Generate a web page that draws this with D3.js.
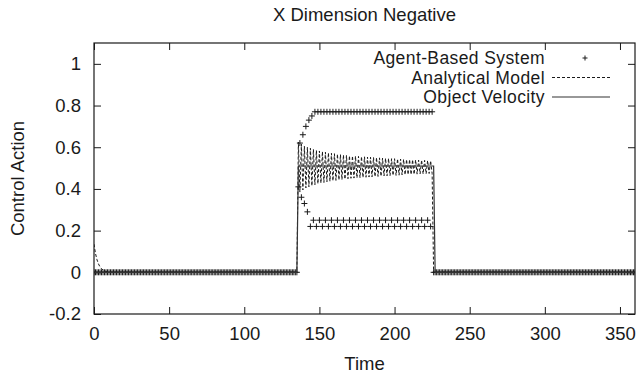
<!DOCTYPE html>
<html>
<head>
<meta charset="utf-8">
<script src="https://cdn.jsdelivr.net/npm/d3@7/dist/d3.min.js"></script>
<style>
  body { margin: 0; background: #fff; }
  svg { display: block; font-family: "Liberation Sans", Arial, Helvetica, sans-serif; }
</style>
</head>
<body>
<div id="chart"></div>
<script>
// ---------------------------
// Data (one value per time step, index = time)
// ---------------------------
const agentValues = [
  // t = 0..135
  0, 0, 0, 0, 0, 0, 0, 0, 0, 0, 0, 0, 0, 0, 0, 0, 0, 0, 0, 0,
  0, 0, 0, 0, 0, 0, 0, 0, 0, 0, 0, 0, 0, 0, 0, 0, 0, 0, 0, 0,
  0, 0, 0, 0, 0, 0, 0, 0, 0, 0, 0, 0, 0, 0, 0, 0, 0, 0, 0, 0,
  0, 0, 0, 0, 0, 0, 0, 0, 0, 0, 0, 0, 0, 0, 0, 0, 0, 0, 0, 0,
  0, 0, 0, 0, 0, 0, 0, 0, 0, 0, 0, 0, 0, 0, 0, 0, 0, 0, 0, 0,
  0, 0, 0, 0, 0, 0, 0, 0, 0, 0, 0, 0, 0, 0, 0, 0, 0, 0, 0, 0,
  0, 0, 0, 0, 0, 0, 0, 0, 0, 0, 0, 0, 0, 0, 0, 0,
  // t = 136..147
  0.41, 0.62, 0.36, 0.66, 0.33, 0.70, 0.29, 0.73, 0.22, 0.75, 0.25, 0.77,
  // t = 148..225
  0.22, 0.77, 0.25, 0.77, 0.22, 0.77, 0.25, 0.77,
  0.22, 0.77, 0.25, 0.77, 0.22, 0.77, 0.25, 0.77,
  0.22, 0.77, 0.25, 0.77, 0.22, 0.77, 0.25, 0.77,
  0.22, 0.77, 0.25, 0.77, 0.22, 0.77, 0.25, 0.77,
  0.22, 0.77, 0.25, 0.77, 0.22, 0.77, 0.25, 0.77,
  0.22, 0.77, 0.25, 0.77, 0.22, 0.77, 0.25, 0.77,
  0.22, 0.77, 0.25, 0.77, 0.22, 0.77, 0.25, 0.77,
  0.22, 0.77, 0.25, 0.77, 0.22, 0.77, 0.25, 0.77,
  0.22, 0.77, 0.25, 0.77, 0.22, 0.77, 0.25, 0.77,
  0.22, 0.77, 0.25, 0.77,
  0.22, 0.77,
  // t = 226..360
  0, 0, 0, 0, 0, 0, 0, 0, 0, 0, 0, 0, 0, 0, 0, 0, 0, 0, 0, 0,
  0, 0, 0, 0, 0, 0, 0, 0, 0, 0, 0, 0, 0, 0, 0, 0, 0, 0, 0, 0,
  0, 0, 0, 0, 0, 0, 0, 0, 0, 0, 0, 0, 0, 0, 0, 0, 0, 0, 0, 0,
  0, 0, 0, 0, 0, 0, 0, 0, 0, 0, 0, 0, 0, 0, 0, 0, 0, 0, 0, 0,
  0, 0, 0, 0, 0, 0, 0, 0, 0, 0, 0, 0, 0, 0, 0, 0, 0, 0, 0, 0,
  0, 0, 0, 0, 0, 0, 0, 0, 0, 0, 0, 0, 0, 0, 0, 0, 0, 0, 0, 0,
  0, 0, 0, 0, 0, 0, 0, 0, 0, 0, 0, 0, 0, 0, 0
];

const modelValues = [
  // t = 0..10
  0.135, 0.09, 0.06, 0.04, 0.026, 0.017, 0.011, 0.007, 0.004, 0.002, 0,
  // t = 11..135
  0, 0, 0, 0, 0, 0, 0, 0, 0, 0, 0, 0, 0, 0, 0, 0, 0, 0, 0, 0,
  0, 0, 0, 0, 0, 0, 0, 0, 0, 0, 0, 0, 0, 0, 0, 0, 0, 0, 0, 0,
  0, 0, 0, 0, 0, 0, 0, 0, 0, 0, 0, 0, 0, 0, 0, 0, 0, 0, 0, 0,
  0, 0, 0, 0, 0, 0, 0, 0, 0, 0, 0, 0, 0, 0, 0, 0, 0, 0, 0, 0,
  0, 0, 0, 0, 0, 0, 0, 0, 0, 0, 0, 0, 0, 0, 0, 0, 0, 0, 0, 0,
  0, 0, 0, 0, 0, 0, 0, 0, 0, 0, 0, 0, 0, 0, 0, 0, 0, 0, 0, 0,
  0, 0, 0, 0, 0,
  // t = 136..225
  0.625, 0.385, 0.615, 0.395, 0.605, 0.405, 0.600, 0.410, 0.595, 0.415,
  0.590, 0.420, 0.585, 0.425, 0.582, 0.428, 0.579, 0.431, 0.576, 0.434,
  0.573, 0.437, 0.571, 0.439, 0.569, 0.441, 0.567, 0.443, 0.565, 0.445,
  0.563, 0.447, 0.561, 0.449, 0.559, 0.451, 0.558, 0.452, 0.557, 0.453,
  0.556, 0.454, 0.555, 0.455, 0.554, 0.456, 0.553, 0.457, 0.552, 0.458,
  0.551, 0.459, 0.550, 0.460, 0.549, 0.461, 0.548, 0.462, 0.547, 0.463,
  0.546, 0.464, 0.545, 0.465, 0.545, 0.465, 0.544, 0.466, 0.543, 0.467,
  0.542, 0.468, 0.541, 0.469, 0.541, 0.469, 0.540, 0.470, 0.539, 0.471,
  0.538, 0.472, 0.538, 0.472, 0.537, 0.473, 0.536, 0.474, 0.535, 0.475,
  // t = 226..360
  0, 0, 0, 0, 0, 0, 0, 0, 0, 0, 0, 0, 0, 0, 0, 0, 0, 0, 0, 0,
  0, 0, 0, 0, 0, 0, 0, 0, 0, 0, 0, 0, 0, 0, 0, 0, 0, 0, 0, 0,
  0, 0, 0, 0, 0, 0, 0, 0, 0, 0, 0, 0, 0, 0, 0, 0, 0, 0, 0, 0,
  0, 0, 0, 0, 0, 0, 0, 0, 0, 0, 0, 0, 0, 0, 0, 0, 0, 0, 0, 0,
  0, 0, 0, 0, 0, 0, 0, 0, 0, 0, 0, 0, 0, 0, 0, 0, 0, 0, 0, 0,
  0, 0, 0, 0, 0, 0, 0, 0, 0, 0, 0, 0, 0, 0, 0, 0, 0, 0, 0, 0,
  0, 0, 0, 0, 0, 0, 0, 0, 0, 0, 0, 0, 0, 0, 0
];

const velocityTimes = [0, 135, 136, 226, 227, 360];
const velocityValues = [0, 0, 0.51, 0.51, 0, 0];

const xTicks = [0, 50, 100, 150, 200, 250, 300, 350];
const yTicks = [-0.2, 0, 0.2, 0.4, 0.6, 0.8, 1];
const yTickLabels = ['-0.2', '0', '0.2', '0.4', '0.6', '0.8', '1'];
const seriesNames = ['Agent-Based System', 'Analytical Model', 'Object Velocity'];

// ---------------------------
// Layout
// ---------------------------
const width = 637, height = 374;
const margin = { top: 43, right: 2, bottom: 60, left: 94 };
const plotW = width - margin.left - margin.right;
const plotH = height - margin.top - margin.bottom;
const fontSize = 18.5;
const ink = '#1a1a1a';

const svg = d3.select('#chart').append('svg')
  .attr('width', width)
  .attr('height', height);

const x = d3.scaleLinear().domain([0, 360]).range([0, plotW]);
const y = d3.scaleLinear().domain([-0.2, 1.1]).range([plotH, 0]);

const plot = svg.append('g').attr('transform', `translate(${margin.left},${margin.top})`);

// clip so nothing leaves the frame
svg.append('defs').append('clipPath').attr('id', 'clip')
  .append('rect').attr('width', plotW).attr('height', plotH);

// ---------------------------
// Axes (ticks inside, mirrored)
// ---------------------------
function styleAxis(g, showText) {
  g.select('.domain').remove();
  g.selectAll('line').attr('stroke', ink);
  g.selectAll('text')
    .attr('fill', ink)
    .style('font-size', fontSize + 'px')
    .style('display', showText ? null : 'none');
}

plot.append('g')
  .attr('transform', `translate(0,${plotH})`)
  .call(d3.axisBottom(x).tickValues(xTicks).tickSizeInner(-7).tickSizeOuter(0).tickPadding(13))
  .call(g => styleAxis(g, true));

plot.append('g')
  .call(d3.axisTop(x).tickValues(xTicks).tickSizeInner(-7).tickSizeOuter(0))
  .call(g => styleAxis(g, false));

plot.append('g')
  .call(d3.axisLeft(y).tickValues(yTicks).tickSizeInner(-7).tickSizeOuter(0).tickPadding(13)
    .tickFormat((d, i) => yTickLabels[i]))
  .call(g => styleAxis(g, true));

plot.append('g')
  .attr('transform', `translate(${plotW},0)`)
  .call(d3.axisRight(y).tickValues(yTicks).tickSizeInner(-7).tickSizeOuter(0))
  .call(g => styleAxis(g, false));

// ---------------------------
// Series
// ---------------------------
const plusPath = s => `M${-s},0H${s}M0,${-s}V${s}`;
const series = plot.append('g').attr('clip-path', 'url(#clip)');

series.selectAll('path.agent')
  .data(agentValues)
  .enter()
  .append('path')
  .attr('class', 'agent')
  .attr('transform', (d, i) => `translate(${x(i)},${y(d)})`)
  .attr('d', plusPath(3))
  .attr('stroke', ink)
  .attr('stroke-width', 1)
  .attr('fill', 'none');

const modelLine = d3.line()
  .x((d, i) => x(i))
  .y(d => y(d));

series.append('path')
  .datum(modelValues)
  .attr('d', modelLine)
  .attr('fill', 'none')
  .attr('stroke', ink)
  .attr('stroke-width', 1)
  .attr('stroke-dasharray', '3,2');

const velocityLine = d3.line()
  .x((d, i) => x(velocityTimes[i]))
  .y(d => y(d));

series.append('path')
  .datum(velocityValues)
  .attr('d', velocityLine)
  .attr('fill', 'none')
  .attr('stroke', '#333')
  .attr('stroke-width', 1.2);

// ---------------------------
// Frame
// ---------------------------
plot.append('rect')
  .attr('width', plotW)
  .attr('height', plotH)
  .attr('fill', 'none')
  .attr('stroke', ink)
  .attr('stroke-width', 1.2);

// ---------------------------
// Legend
// ---------------------------
const legend = svg.append('g');
const legendBase = [64, 83.5, 103];

legend.selectAll('text')
  .data(seriesNames)
  .enter()
  .append('text')
  .attr('x', 545)
  .attr('y', (d, i) => legendBase[i])
  .attr('text-anchor', 'end')
  .attr('fill', ink)
  .style('font-size', '17.5px')
  .style('letter-spacing', '0.4px')
  .text(d => d);

legend.append('path')
  .attr('transform', `translate(585,${legendBase[0] - 6})`)
  .attr('d', plusPath(2.5))
  .attr('stroke', ink)
  .attr('fill', 'none');

legend.append('line')
  .attr('x1', 552).attr('x2', 610)
  .attr('y1', legendBase[1] - 6).attr('y2', legendBase[1] - 6)
  .attr('stroke', ink)
  .attr('stroke-dasharray', '3,2');

legend.append('line')
  .attr('x1', 552).attr('x2', 610)
  .attr('y1', legendBase[2] - 6).attr('y2', legendBase[2] - 6)
  .attr('stroke', '#333')
  .attr('stroke-width', 1.2);

// ---------------------------
// Titles
// ---------------------------
svg.append('text')
  .attr('x', margin.left + plotW / 2)
  .attr('y', 21)
  .attr('text-anchor', 'middle')
  .attr('fill', ink)
  .style('font-size', fontSize + 'px')
  .text('X Dimension Negative');

svg.append('text')
  .attr('x', margin.left + plotW / 2)
  .attr('y', 370)
  .attr('text-anchor', 'middle')
  .attr('fill', ink)
  .style('font-size', fontSize + 'px')
  .text('Time');

svg.append('text')
  .attr('transform', `translate(24,${margin.top + plotH / 2}) rotate(-90)`)
  .attr('text-anchor', 'middle')
  .attr('fill', ink)
  .style('font-size', fontSize + 'px')
  .text('Control Action');
</script>
</body>
</html>
